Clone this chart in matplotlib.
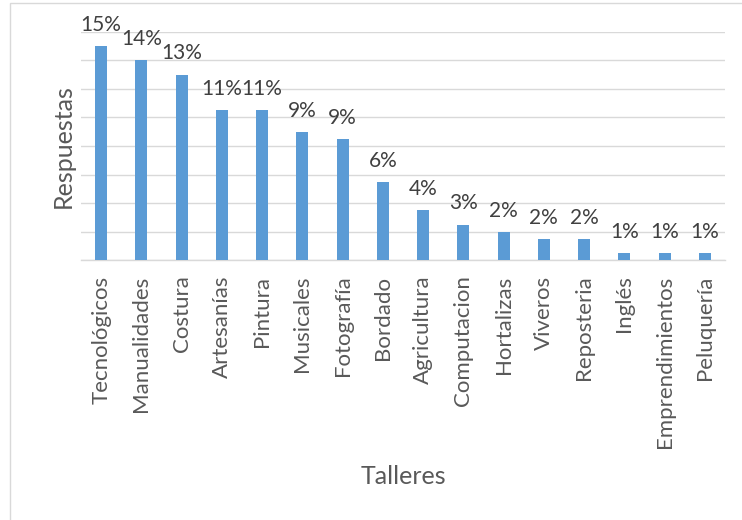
import matplotlib.pyplot as plt
from matplotlib.patches import Rectangle

# Respuestas por taller
talleres = ["Tecnológicos", "Manualidades", "Costura", "Artesanías", "Pintura",
            "Musicales", "Fotografía", "Bordado", "Agricultura", "Computacion",
            "Hortalizas", "Viveros", "Reposteria", "Inglés", "Emprendimientos",
            "Peluquería"]
respuestas = [30, 28, 26, 21, 21, 18, 17, 11, 7, 5, 4, 3, 3, 1, 1, 1]
etiquetas = ["15%", "14%", "13%", "11%", "11%", "9%", "9%", "6%", "4%", "3%",
             "2%", "2%", "2%", "1%", "1%", "1%"]

plt.rcParams["font.family"] = ["Lato", "DejaVu Sans"]

fig = plt.figure(figsize=(7.42, 5.2), dpi=100)
ax = fig.add_axes([81 / 742, 1 - 260.3 / 520, 644 / 742, 228.6 / 520])

# cornice grigia della figura
fig.patches.append(Rectangle((10 / 742, -0.1), 1.2, 1.1 - 3 / 520,
                             transform=fig.transFigure, fill=False,
                             edgecolor="#d9d9d9", linewidth=1))

x = range(len(talleres))
barre = ax.bar(x, respuestas, width=0.3, color="#5b9bd5", zorder=3)

for b, lab in zip(barre, etiquetas):
    ax.annotate(lab, (b.get_x() + b.get_width() / 2, b.get_height()),
                xytext=(0, 8), textcoords="offset points", ha="center",
                va="bottom", fontsize=15, color="#404040")

ax.set_xlim(-0.5, len(talleres) - 0.5)
ax.set_ylim(0, 32)
ax.set_yticks(range(0, 33, 4))
ax.set_yticklabels([])
ax.set_xticks(list(x))
ax.set_xticklabels(talleres, rotation=90, fontsize=16, color="#595959")
ax.tick_params(axis="both", length=0)
ax.tick_params(axis="x", pad=11)
ax.grid(axis="y", color="#d9d9d9", linewidth=1, zorder=0)
for s in ["top", "right", "left"]:
    ax.spines[s].set_visible(False)
ax.spines["bottom"].set_color("#d9d9d9")
ax.spines["bottom"].set_linewidth(1)

fig.text(403 / 742, 1 - 477 / 520, "Talleres", ha="center", va="center",
         fontsize=18, color="#595959")
fig.text(63 / 742, 1 - 146 / 520, "Respuestas", ha="center", va="center",
         rotation=90, fontsize=18, color="#595959")

fig.savefig("out.png", dpi=100)
